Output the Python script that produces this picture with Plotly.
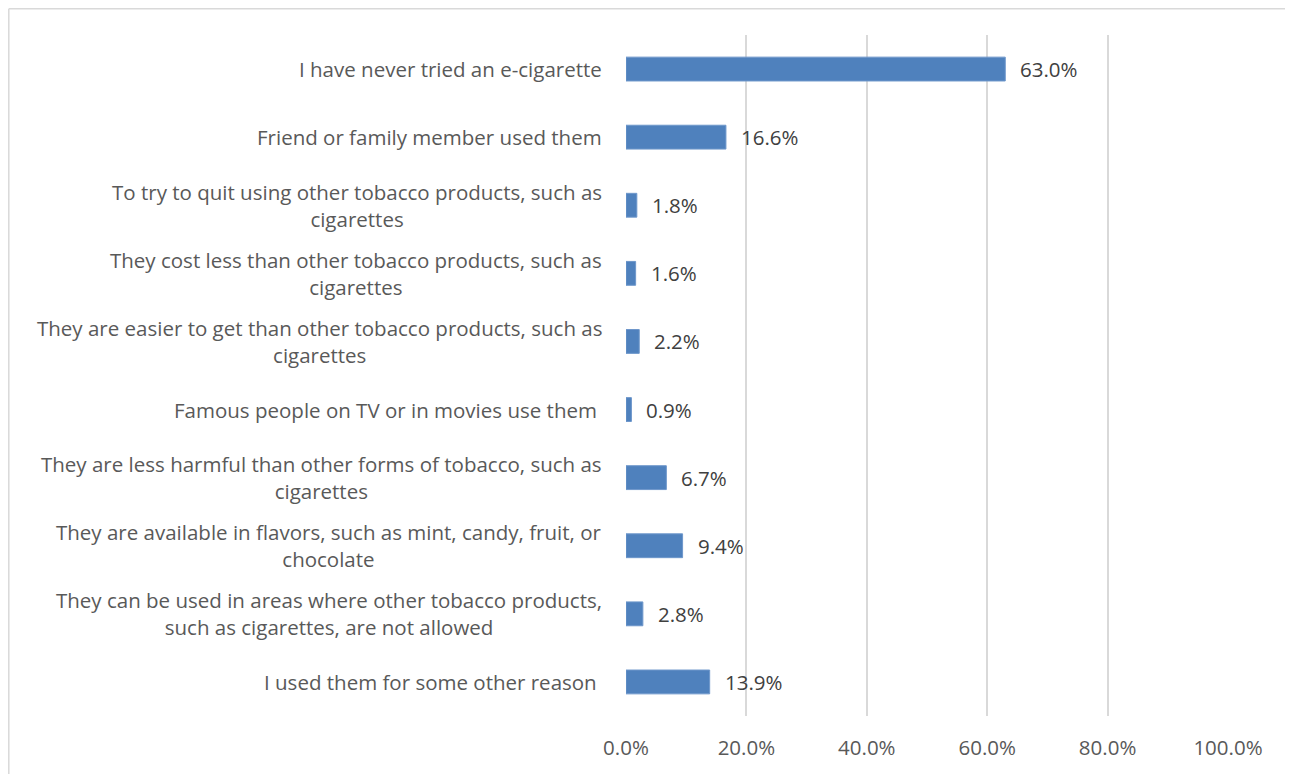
import plotly.graph_objects as go

categories = [
    "I have never tried an e-cigarette",
    "Friend or family member used them",
    "To try to quit using other tobacco products, such as<br>cigarettes",
    "They cost less than other tobacco products, such as<br>cigarettes",
    "They are easier to get than other tobacco products, such as<br>cigarettes",
    "Famous people on TV or in movies use them\u00a0",
    "They are less harmful than other forms of tobacco, such as<br>cigarettes",
    "They are available in flavors, such as mint, candy, fruit, or<br>chocolate",
    "They can be used in areas where other tobacco products,<br>such as cigarettes, are not allowed",
    "I used them for some other reason\u00a0",
]
values = [63.0, 16.6, 1.8, 1.6, 2.2, 0.9, 6.7, 9.4, 2.8, 13.9]
tick_vals = [0, 20, 40, 60, 80, 100]
tick_text = ["0.0%", "20.0%", "40.0%", "60.0%", "80.0%", "100.0%"]

FONT = "Open Sans"
FS = 20.5
# page has an 8px body margin; size the figure so the plot area lands where the reference has it
W, H = 1285, 766
L, R, T, B = 618, 65, 27, 58
pw = W - L - R
ph = H - T - B

ypos = list(range(len(categories)))

fig = go.Figure(go.Bar(
    x=values, y=ypos, orientation="h", width=0.35,
    marker=dict(color="#4F81BD", line=dict(color="#6E97CB", width=1)),
    hoverinfo="skip",
))

annotations = []
for i, (c, v) in enumerate(zip(categories, values)):
    annotations.append(dict(
        x=0, xref="paper", y=i, yref="y", text=c, showarrow=False,
        xanchor="right", yanchor="middle", align="center", xshift=-22,
        font=dict(family=FONT, size=FS, color="#595959"),
    ))
    annotations.append(dict(
        x=v, xref="x", y=i, yref="y", text=f"{v:.1f}%", showarrow=False,
        xanchor="left", yanchor="middle", xshift=13,
        font=dict(family=FONT, size=FS, color="#404040"),
    ))

# chart border (left and top edges visible)
bx0 = (0.8 - L) / pw
by1 = 1 + (T - 0.8) / ph
shapes = [
    dict(type="line", xref="paper", yref="paper", x0=bx0, x1=bx0, y0=-1, y1=by1,
         line=dict(color="#D9D9D9", width=1.5)),
    dict(type="line", xref="paper", yref="paper", x0=bx0, x1=2, y0=by1, y1=by1,
         line=dict(color="#D9D9D9", width=1.5)),
]

fig.update_layout(
    width=W, height=H,
    margin=dict(l=L, r=R, t=T, b=B, autoexpand=False),
    paper_bgcolor="white", plot_bgcolor="white",
    showlegend=False,
    annotations=annotations,
    shapes=shapes,
    xaxis=dict(
        range=[0, 100], tickvals=tick_vals, ticktext=tick_text,
        showgrid=True, gridcolor="#D9D9D9", gridwidth=1.5,
        zeroline=False, showline=False, ticks="",
        automargin=False,
        ticklabelstandoff=17,
        tickfont=dict(family=FONT, size=FS, color="#595959"),
    ),
    yaxis=dict(
        range=[len(categories) - 0.5, -0.5], showticklabels=False,
        showgrid=False, zeroline=False, showline=False, ticks="",
        automargin=False,
    ),
)

fig.write_html("out.html")
